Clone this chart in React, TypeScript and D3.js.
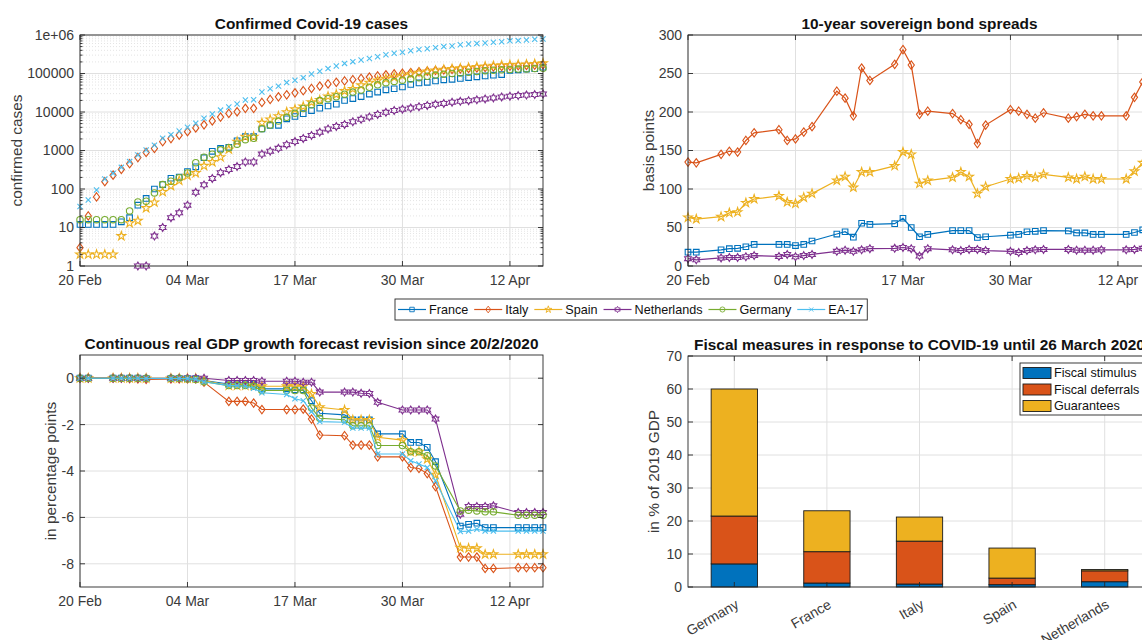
import React, { useEffect, useRef } from "react";
import * as d3 from "d3";

// ---------------- shared ----------------
const countries = ["France", "Italy", "Spain", "Netherlands", "Germany", "EA-17"];
const countryColors = ["#0072BD", "#D95319", "#EDB120", "#7E2F8E", "#77AC30", "#4DBEEE"];
const countryMarkers = ["square", "diamond", "pentagram", "hexagram", "circle", "x"];

const dateTicks = [0, 13, 26, 39, 52];
const dateLabels = ["20 Feb", "04 Mar", "17 Mar", "30 Mar", "12 Apr"];
const lastDay = 56;

// ---------------- confirmed cases (one value per day from 20 Feb) ----------------
const casesFrance = [12, 12, 12, 12, 12, 14, 18, 38, 57, 100, 130, 190, 204, 285, 377, 653, 950, 1130, 1210, 1780, 2280, 2280, 3660, 4470, 4500, 6630, 7650, 9040, 10900, 12600, 14300, 16000, 19900, 22300, 25200, 29200, 33000, 37600, 40200, 44600, 52100, 57000, 59100, 64300, 68600, 70500, 74400, 78200, 82000, 86300, 90700, 93800, 120600, 124300, 130300, 133500, 146000];
const casesItaly = [3, 20, 62, 155, 229, 322, 453, 655, 888, 1130, 1690, 2040, 2500, 3090, 3860, 4640, 5880, 7380, 9170, 10150, 12460, 12460, 17660, 21160, 24750, 27980, 31500, 35700, 41000, 47000, 53600, 59100, 63900, 69200, 74400, 80600, 86500, 92500, 97700, 101700, 105800, 110600, 115200, 119800, 124600, 128900, 132500, 135600, 139400, 143600, 147600, 152300, 156400, 159500, 162500, 165200, 168900];
const casesSpain = [2, 2, 2, 2, 2, 6, 13, 15, 32, 45, 84, 120, 165, 222, 259, 400, 500, 673, 1070, 1700, 2280, 2280, 5230, 6390, 7800, 9940, 11750, 13900, 18000, 20400, 25400, 28600, 35100, 39900, 49500, 57800, 65700, 73200, 80100, 88000, 95900, 104100, 112100, 119200, 126200, 131600, 136700, 141900, 148200, 153200, 158300, 163000, 166800, 170100, 172500, 177600, 184900];
const casesNetherlands = [null, null, null, null, null, null, null, 1, 1, 6, 10, 18, 24, 38, 82, 128, 188, 265, 321, 382, 503, 503, 806, 962, 1140, 1420, 1710, 2060, 2470, 3000, 3640, 4220, 4760, 5580, 6440, 7470, 8650, 9820, 10930, 11820, 12670, 13700, 14790, 15820, 16730, 17950, 18930, 19710, 20680, 21900, 23250, 24570, 25750, 26710, 27580, 28320, 29380];
const casesGermany = [16, 16, 16, 16, 16, 16, 27, 46, 48, 79, 130, 159, 196, 262, 482, 670, 799, 1040, 1180, 1460, 1910, 2080, 3680, 4590, 5800, 7270, 9260, 12330, 15320, 19850, 22200, 24900, 29100, 33000, 37300, 43900, 50900, 57700, 62100, 66900, 71800, 77900, 84800, 91200, 96100, 100100, 103400, 107700, 113300, 118200, 122200, 124900, 127900, 130100, 131400, 134800, 137700];
const casesEA = [35, 52, 94, 182, 255, 365, 515, 765, 1030, 1380, 2090, 2580, 3200, 4000, 5100, 6900, 8900, 11200, 13500, 16200, 20400, 20800, 33000, 40000, 47000, 58000, 66500, 78000, 97000, 114000, 134000, 156000, 183000, 203000, 225000, 245000, 272000, 308000, 335000, 357000, 390000, 418000, 440000, 470000, 500000, 520000, 560000, 585000, 605000, 620000, 645000, 670000, 705000, 715000, 740000, 775000, 790000];
const casesTicks = [1, 10, 100, 1000, 10000, 100000, 1000000];
const casesTickLabels = ["1", "10", "100", "1000", "10000", "100000", "1e+06"];

// ---------------- 10-year spreads (trading days since 20 Feb) ----------------
const tradingDays = [0, 1, 4, 5, 6, 7, 8, 11, 12, 13, 14, 15, 18, 19, 20, 21, 22, 25, 26, 27, 28, 29, 32, 33, 34, 35, 36, 39, 40, 41, 42, 43, 46, 47, 48, 49, 50, 53, 54, 55];
const spreadFrance = [18, 18, 21, 22.5, 23, 25, 28, 28, 28, 26.5, 28, 32.5, 41.5, 44.5, 37.5, 55.5, 54, 55, 62, 50, 38, 41, 46, 46, 46, 37, 38, 40, 41, 44.5, 45, 46, 45.5, 43, 43, 41, 41, 41, 43.5, 47];
const spreadItaly = [135, 134, 145, 149, 148, 163, 173, 177, 163, 165, 174, 181, 227, 218, 195, 257, 241, 262, 281, 261, 197, 201, 198, 190, 184, 159, 183, 203, 201, 197, 192, 199, 192, 194, 197, 195, 195, 195, 219, 239];
const spreadSpain = [63, 61, 64, 69, 70, 82, 87, 91, 83, 81, 89, 94, 111, 116, 102, 122, 122, 130, 148, 145, 107, 111, 115, 122, 116, 94, 103, 113, 114, 117, 115, 119, 115, 113, 116, 113, 113, 113, 123, 134];
const spreadNetherlands = [9.5, 8, 10.5, 11, 11, 12, 13.5, 12.5, 15, 12, 13.5, 15, 19, 20.5, 19, 21, 22.5, 23, 24, 22.5, 13, 22.5, 21, 20, 21.5, 21.5, 20, 19, 17.5, 20, 21, 21.5, 21.5, 20.5, 20.5, 20.5, 21, 21, 21.5, 23];
const spreadTicks = [0, 50, 100, 150, 200, 250, 300];

// ---------------- GDP forecast revisions ----------------
const revisionDays = [0, 1, 4, 5, 6, 7, 8, 11, 12, 13, 14, 15, 18, 19, 20, 21, 22, 25, 26, 27, 28, 29, 32, 33, 34, 35, 36, 39, 40, 41, 42, 43, 46, 47, 48, 49, 50, 53, 54, 55, 56];
const revFrance = [0, 0, 0, 0, 0, 0, -0.02, -0.02, -0.02, -0.02, -0.02, -0.1, -0.25, -0.25, -0.25, -0.27, -0.46, -0.46, -0.5, -0.5, -0.97, -1.51, -1.58, -1.8, -1.8, -1.8, -2.4, -2.4, -2.77, -2.77, -2.98, -3.6, -6.37, -6.3, -6.25, -6.44, -6.44, -6.44, -6.44, -6.44, -6.44];
const revItaly = [0, 0, 0, 0, -0.02, -0.03, -0.05, -0.03, -0.03, -0.03, -0.03, -0.17, -1.0, -1.0, -1.0, -1.07, -1.35, -1.35, -1.35, -1.33, -1.76, -2.45, -2.48, -2.88, -2.88, -2.88, -3.39, -3.39, -3.85, -3.89, -4.11, -4.67, -7.71, -7.71, -7.71, -8.2, -8.2, -8.17, -8.17, -8.17, -8.17];
const revSpain = [0, 0, 0, 0, 0, 0, -0.01, -0.01, -0.01, -0.01, -0.01, -0.1, -0.32, -0.32, -0.32, -0.32, -0.35, -0.35, -0.35, -0.35, -0.68, -1.25, -1.37, -1.8, -1.8, -1.8, -2.55, -2.67, -3.17, -3.17, -3.49, -4.16, -7.31, -7.33, -7.33, -7.59, -7.59, -7.59, -7.59, -7.59, -7.59];
const revNetherlands = [0, 0, 0, 0, 0, 0, 0, 0, 0, 0, 0, 0, -0.1, -0.1, -0.1, -0.1, -0.13, -0.13, -0.13, -0.17, -0.17, -0.6, -0.6, -0.6, -0.65, -0.66, -1.04, -1.37, -1.37, -1.37, -1.37, -1.76, -5.86, -5.53, -5.53, -5.53, -5.5, -5.79, -5.79, -5.79, -5.79];
const revGermany = [0, 0, 0, 0, 0, 0, 0, 0, 0, -0.03, -0.06, -0.15, -0.32, -0.32, -0.32, -0.35, -0.53, -0.53, -0.53, -0.53, -1.28, -1.73, -1.79, -2.05, -2.05, -2.05, -2.9, -2.9, -3.17, -3.17, -3.34, -3.78, -5.72, -5.69, -5.72, -5.76, -5.76, -5.91, -5.91, -5.91, -5.91];
const revEA = [0, 0, 0, 0, 0, 0, -0.01, -0.01, -0.01, -0.02, -0.05, -0.15, -0.32, -0.32, -0.35, -0.43, -0.63, -0.7, -0.89, -0.97, -1.44, -1.87, -1.9, -2.15, -2.15, -2.15, -3.27, -3.27, -3.56, -3.7, -3.85, -4.42, -6.61, -6.59, -6.51, -6.59, -6.59, -6.59, -6.59, -6.59, -6.59];
const revTicks = [0, -2, -4, -6, -8];

// ---------------- fiscal measures ----------------
const fiscalCountries = ["Germany", "France", "Italy", "Spain", "Netherlands"];
const fiscalStimulus = [7, 1.2, 0.9, 0.7, 1.6];
const fiscalDeferrals = [14.5, 9.5, 13, 2, 3.3];
const fiscalGuarantees = [38.5, 12.4, 7.3, 9.1, 0.4];
const fiscalKeys = ["Fiscal stimulus", "Fiscal deferrals", "Guarantees"];
const fiscalColors = ["#0072BD", "#D95319", "#EDB120"];
const fiscalTicks = [0, 10, 20, 30, 40, 50, 60, 70];

const FONT = "'Liberation Sans', Arial, Helvetica, sans-serif";
const AX = "#262626";
const TXT = "#3a3a3a";
const GRID = "#e0e0e0";

type Box = { left: number; right: number; top: number; bottom: number };

function markerPath(kind: string): string {
  if (kind === "square") return "M-2.8,-2.8H2.8V2.8H-2.8Z";
  if (kind === "diamond") return "M0,-4.2L3.1,0L0,4.2L-3.1,0Z";
  if (kind === "circle") return "M3.2,0A3.2,3.2 0 1 1 -3.2,0A3.2,3.2 0 1 1 3.2,0Z";
  if (kind === "x") return "M-2.6,-2.6L2.6,2.6M2.6,-2.6L-2.6,2.6";
  const n = kind === "pentagram" ? 5 : 6;
  const R = kind === "pentagram" ? 4.6 : 3.9;
  const r = kind === "pentagram" ? R * 0.382 : R / Math.sqrt(3);
  const pts: string[] = [];
  for (let i = 0; i < 2 * n; i++) {
    const a = -Math.PI / 2 + (i * Math.PI) / n;
    const rad = i % 2 ? r : R;
    pts.push(`${(rad * Math.cos(a)).toFixed(2)},${(rad * Math.sin(a)).toFixed(2)}`);
  }
  return "M" + pts.join("L") + "Z";
}

function drawGrid(g: any, box: Box, xs: number[], ys: number[], color = GRID, dash: string | null = null) {
  g.append("g")
    .selectAll("line")
    .data(xs)
    .join("line")
    .attr("x1", (d: number) => d)
    .attr("x2", (d: number) => d)
    .attr("y1", box.top)
    .attr("y2", box.bottom)
    .attr("stroke", color)
    .attr("stroke-dasharray", dash);
  g.append("g")
    .selectAll("line")
    .data(ys)
    .join("line")
    .attr("x1", box.left)
    .attr("x2", box.right)
    .attr("y1", (d: number) => d)
    .attr("y2", (d: number) => d)
    .attr("stroke", color)
    .attr("stroke-dasharray", dash);
}

function drawFrame(g: any, box: Box, xs: number[], ys: number[], minorYs: number[] = []) {
  const f = g.append("g").attr("stroke", AX).attr("stroke-width", 0.9).attr("fill", "none");
  f.append("rect")
    .attr("x", box.left)
    .attr("y", box.top)
    .attr("width", box.right - box.left)
    .attr("height", box.bottom - box.top);
  const tl = 5;
  xs.forEach((x) => {
    f.append("line").attr("x1", x).attr("x2", x).attr("y1", box.bottom).attr("y2", box.bottom - tl);
    f.append("line").attr("x1", x).attr("x2", x).attr("y1", box.top).attr("y2", box.top + tl);
  });
  ys.forEach((y) => {
    f.append("line").attr("x1", box.left).attr("x2", box.left + tl).attr("y1", y).attr("y2", y);
    f.append("line").attr("x1", box.right).attr("x2", box.right - tl).attr("y1", y).attr("y2", y);
  });
  minorYs.forEach((y) => {
    f.append("line").attr("x1", box.left).attr("x2", box.left + 2.5).attr("y1", y).attr("y2", y);
    f.append("line").attr("x1", box.right).attr("x2", box.right - 2.5).attr("y1", y).attr("y2", y);
  });
}

function drawLabels(g: any, box: Box, title: string, yLabel: string, yLabelX: number) {
  g.append("text")
    .attr("x", (box.left + box.right) / 2)
    .attr("y", box.top - 6.5)
    .attr("text-anchor", "middle")
    .attr("font-weight", "bold")
    .attr("font-size", 15.4)
    .attr("fill", "#111")
    .text(title);
  g.append("text")
    .attr("transform", `translate(${yLabelX},${(box.top + box.bottom) / 2}) rotate(-90)`)
    .attr("dy", "0.35em")
    .attr("text-anchor", "middle")
    .attr("font-size", 15.4)
    .attr("fill", TXT)
    .text(yLabel);
}

function drawYTicks(g: any, box: Box, ys: number[], labels: string[]) {
  g.append("g")
    .selectAll("text")
    .data(ys)
    .join("text")
    .attr("x", box.left - 6)
    .attr("y", (d: number) => d)
    .attr("dy", "0.35em")
    .attr("text-anchor", "end")
    .attr("font-size", 14)
    .attr("fill", TXT)
    .text((_: number, i: number) => labels[i]);
}

function drawXTicks(g: any, box: Box, xs: number[], labels: string[]) {
  g.append("g")
    .selectAll("text")
    .data(xs)
    .join("text")
    .attr("x", (d: number) => d)
    .attr("y", box.bottom + 19)
    .attr("text-anchor", "middle")
    .attr("font-size", 14)
    .attr("fill", TXT)
    .text((_: number, i: number) => labels[i]);
}

function App() {
  const svgRef = useRef<SVGSVGElement | null>(null);

  useEffect(() => {
    const svg = d3.select(svgRef.current);
    svg.selectAll("*").remove();
    const root = svg.append("g").attr("font-family", FONT);

    /* ---------------- Confirmed cases (log) ---------------- */
    const tl: Box = { left: 80, right: 543, top: 35, bottom: 266 };
    const gTL = root.append("g");
    const xTL = d3.scaleLinear().domain([0, lastDay]).range([tl.left, tl.right]);
    const yTL = d3.scaleLog().domain([1, 1e6]).range([tl.bottom, tl.top]);
    const minorCases: number[] = [];
    casesTicks.slice(0, -1).forEach((t) => {
      for (let k = 2; k <= 9; k++) minorCases.push(yTL(t * k));
    });
    drawGrid(gTL, tl, [], minorCases, "#e4e4e4", "1 2");
    drawGrid(gTL, tl, dateTicks.map((d) => xTL(d)), casesTicks.map((t) => yTL(t)));
    const casesSeries = [casesFrance, casesItaly, casesSpain, casesNetherlands, casesGermany, casesEA];
    casesSeries.forEach((vals, i) => {
      const pts = vals.map((v, d) => [d, v]).filter((p) => p[1] != null) as number[][];
      gTL.append("g")
        .selectAll("path")
        .data(pts)
        .join("path")
        .attr("d", markerPath(countryMarkers[i]))
        .attr("transform", (p: number[]) => `translate(${xTL(p[0])},${yTL(p[1])})`)
        .attr("fill", "none")
        .attr("stroke", countryColors[i])
        .attr("stroke-width", 1.1);
    });
    drawFrame(gTL, tl, dateTicks.map((d) => xTL(d)), casesTicks.map((t) => yTL(t)), minorCases);
    drawYTicks(gTL, tl, casesTicks.map((t) => yTL(t)), casesTickLabels);
    drawXTicks(gTL, tl, dateTicks.map((d) => xTL(d)), dateLabels);
    drawLabels(gTL, tl, "Confirmed Covid-19 cases", "confirmed cases", 17);

    /* ---------------- Bond spreads ---------------- */
    const tr: Box = { left: 688, right: 1151, top: 35, bottom: 266 };
    const gTR = root.append("g");
    const xTR = d3.scaleLinear().domain([0, lastDay]).range([tr.left, tr.right]);
    const yTR = d3.scaleLinear().domain([0, 300]).range([tr.bottom, tr.top]);
    drawGrid(gTR, tr, dateTicks.map((d) => xTR(d)), spreadTicks.map((t) => yTR(t)));
    const spreadSeries = [spreadFrance, spreadItaly, spreadSpain, spreadNetherlands];
    const spreadLine = d3
      .line<number>()
      .x((_, i) => xTR(tradingDays[i]))
      .y((v) => yTR(v));
    spreadSeries.forEach((vals, i) => {
      gTR.append("path")
        .datum(vals)
        .attr("d", spreadLine)
        .attr("fill", "none")
        .attr("stroke", countryColors[i])
        .attr("stroke-width", 1.2);
      gTR.append("g")
        .selectAll("path")
        .data(vals)
        .join("path")
        .attr("d", markerPath(countryMarkers[i]))
        .attr("transform", (v: number, j: number) => `translate(${xTR(tradingDays[j])},${yTR(v)})`)
        .attr("fill", "none")
        .attr("stroke", countryColors[i])
        .attr("stroke-width", 1.1);
    });
    drawFrame(gTR, tr, dateTicks.map((d) => xTR(d)), spreadTicks.map((t) => yTR(t)));
    drawYTicks(gTR, tr, spreadTicks.map((t) => yTR(t)), spreadTicks.map(String));
    drawXTicks(gTR, tr, dateTicks.map((d) => xTR(d)), dateLabels);
    drawLabels(gTR, tr, "10-year sovereign bond spreads", "basis points", 649);

    /* ---------------- Legend ---------------- */
    const gLeg = root.append("g").attr("font-size", 12.6);
    const legBox = gLeg.append("rect").attr("fill", "#fff").attr("stroke", AX).attr("stroke-width", 0.9);
    let lx = 398;
    const ly = 309.5;
    countries.forEach((c, i) => {
      gLeg.append("line").attr("x1", lx).attr("x2", lx + 28).attr("y1", ly).attr("y2", ly)
        .attr("stroke", countryColors[i]).attr("stroke-width", 1.2);
      gLeg.append("path").attr("d", markerPath(countryMarkers[i]))
        .attr("transform", `translate(${lx + 14},${ly}) scale(0.8)`)
        .attr("fill", "none").attr("stroke", countryColors[i]).attr("stroke-width", 1.1);
      const t = gLeg.append("text").attr("x", lx + 31).attr("y", ly).attr("dy", "0.35em").attr("fill", "#111").text(c);
      const w = (t.node() as SVGTextElement).getComputedTextLength();
      lx += 31 + w + 6;
    });
    legBox.attr("x", 395).attr("y", 299).attr("width", lx - 395 - 2).attr("height", 21);

    /* ---------------- GDP revisions ---------------- */
    const bl: Box = { left: 80, right: 543, top: 355, bottom: 587 };
    const gBL = root.append("g");
    const xBL = d3.scaleLinear().domain([0, lastDay]).range([bl.left, bl.right]);
    const yBL = d3.scaleLinear().domain([-9, 1]).range([bl.bottom, bl.top]);
    drawGrid(gBL, bl, dateTicks.map((d) => xBL(d)), revTicks.map((t) => yBL(t)));
    const revSeries = [revFrance, revItaly, revSpain, revNetherlands, revGermany, revEA];
    const revLine = d3
      .line<number>()
      .x((_, i) => xBL(revisionDays[i]))
      .y((v) => yBL(v));
    revSeries.forEach((vals, i) => {
      gBL.append("path")
        .datum(vals)
        .attr("d", revLine)
        .attr("fill", "none")
        .attr("stroke", countryColors[i])
        .attr("stroke-width", 1.1);
      gBL.append("g")
        .selectAll("path")
        .data(vals)
        .join("path")
        .attr("d", markerPath(countryMarkers[i]))
        .attr("transform", (v: number, j: number) => `translate(${xBL(revisionDays[j])},${yBL(v)})`)
        .attr("fill", "none")
        .attr("stroke", countryColors[i])
        .attr("stroke-width", 1.1);
    });
    drawFrame(gBL, bl, dateTicks.map((d) => xBL(d)), revTicks.map((t) => yBL(t)));
    drawYTicks(gBL, bl, revTicks.map((t) => yBL(t)), revTicks.map(String));
    drawXTicks(gBL, bl, dateTicks.map((d) => xBL(d)), dateLabels);
    drawLabels(gBL, bl, "Continuous real GDP growth forecast revision since 20/2/2020", "in percentage points", 51);

    /* ---------------- Fiscal measures ---------------- */
    const br: Box = { left: 688, right: 1151, top: 356, bottom: 587 };
    const gBR = root.append("g");
    const xBR = d3.scaleBand<string>().domain(fiscalCountries).range([br.left, br.right]).paddingInner(0.5).paddingOuter(0.25);
    const yBR = d3.scaleLinear().domain([0, 70]).range([br.bottom, br.top]);
    const centers = fiscalCountries.map((c) => (xBR(c) as number) + xBR.bandwidth() / 2);
    drawGrid(gBR, br, centers, fiscalTicks.map((t) => yBR(t)));
    const rows = fiscalCountries.map((c, i) => ({
      country: c,
      "Fiscal stimulus": fiscalStimulus[i],
      "Fiscal deferrals": fiscalDeferrals[i],
      Guarantees: fiscalGuarantees[i],
    }));
    const stacked = d3.stack<any>().keys(fiscalKeys)(rows);
    stacked.forEach((layer, k) => {
      gBR.append("g")
        .selectAll("rect")
        .data(layer)
        .join("rect")
        .attr("x", (d: any) => xBR(d.data.country))
        .attr("width", xBR.bandwidth())
        .attr("y", (d: any) => yBR(d[1]))
        .attr("height", (d: any) => yBR(d[0]) - yBR(d[1]))
        .attr("fill", fiscalColors[k])
        .attr("stroke", "#1a1a1a")
        .attr("stroke-width", 0.9);
    });
    drawFrame(gBR, br, centers, fiscalTicks.map((t) => yBR(t)));
    drawYTicks(gBR, br, fiscalTicks.map((t) => yBR(t)), fiscalTicks.map(String));
    gBR.append("g")
      .selectAll("text")
      .data(fiscalCountries)
      .join("text")
      .attr("transform", (c: string, i: number) => `translate(${centers[i] + 3},${br.bottom + 16}) rotate(-30)`)
      .attr("dy", "0.35em")
      .attr("text-anchor", "end")
      .attr("font-size", 14)
      .attr("fill", TXT)
      .text((c: string) => c);
    drawLabels(gBR, br, "Fiscal measures in response to COVID-19 until 26 March 2020", "in % of 2019 GDP", 653.5);

    const gFL = gBR.append("g").attr("font-size", 12.6);
    gFL.append("rect").attr("x", 1020).attr("y", 363).attr("width", 140).attr("height", 52)
      .attr("fill", "#fff").attr("stroke", AX).attr("stroke-width", 0.9);
    fiscalKeys.forEach((k, i) => {
      const cy = 373 + i * 16.5;
      gFL.append("rect").attr("x", 1023).attr("y", cy - 5.5).attr("width", 28).attr("height", 11)
        .attr("fill", fiscalColors[i]).attr("stroke", "#1a1a1a").attr("stroke-width", 0.9);
      gFL.append("text").attr("x", 1054).attr("y", cy).attr("dy", "0.35em").attr("fill", "#111").text(k);
    });
  }, []);

  return (
    <div style={{ position: "fixed", left: 0, top: 0, width: 1142, height: 640, overflow: "hidden", background: "#fff" }}>
      <svg ref={svgRef} width={1142} height={640} />
    </div>
  );
}

export default App;
